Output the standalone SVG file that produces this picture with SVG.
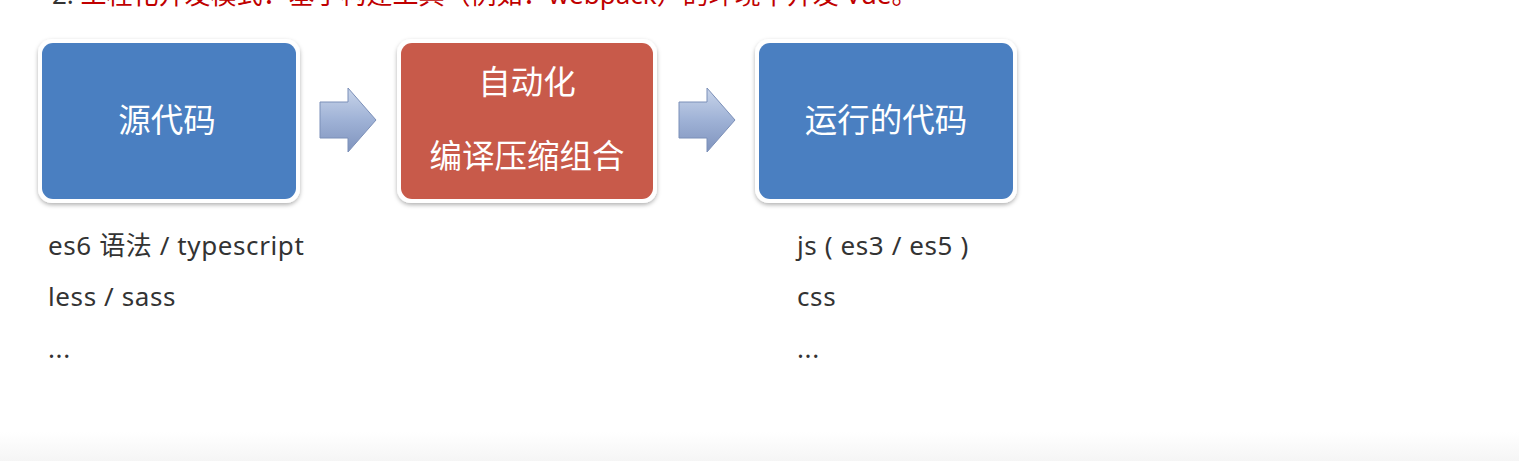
<svg xmlns="http://www.w3.org/2000/svg" width="1519" height="461" viewBox="0 0 1519 461">
<defs>
<style>
.lbl{font-family:"Noto Sans","Noto Sans CJK SC",sans-serif;font-size:32.5px;fill:#ffffff;text-anchor:middle}
.note{font-family:"Noto Sans","Noto Sans CJK SC",sans-serif;font-size:26px;letter-spacing:0.6px;fill:#333333}
.frame{fill:#ffffff;filter:url(#sh)}
</style>
<filter id="sh" x="-10%" y="-10%" width="120%" height="130%">
<feDropShadow dx="0" dy="2" stdDeviation="2" flood-color="#000" flood-opacity="0.3"/>
</filter>
<linearGradient id="arr" x1="0" y1="0" x2="0" y2="1">
<stop offset="0" stop-color="#c9d5ea"/>
<stop offset="0.5" stop-color="#9fb2d6"/>
<stop offset="1" stop-color="#7f93bd"/>
</linearGradient>
<linearGradient id="bot" x1="0" y1="0" x2="0" y2="1">
<stop offset="0" stop-color="#ffffff"/>
<stop offset="1" stop-color="#f5f5f5"/>
</linearGradient>
<path id="arrowShape" d="M0,14 L28,14 L28,0 L56,32 L28,64 L28,50 L0,50 Z"/>
</defs>
<rect width="1519" height="461" fill="#ffffff"/>
<rect x="0" y="432" width="1519" height="29" fill="url(#bot)"/>
<text x="52" y="4" font-family="Noto Sans,Noto Sans CJK SC,sans-serif" font-size="26" fill="#c00000"><tspan fill="#333333">2. </tspan>工程化开发模式：基于构建工具（例如：webpack）的环境中开发 Vue。</text>
<g id="node-source">
<rect class="frame" x="38" y="39" width="262" height="164" rx="14"/>
<rect x="42" y="43" width="254" height="156" rx="11" fill="#4a7fc1"/>
<text class="lbl" x="167" y="132">源代码</text>
</g>
<g id="node-build">
<rect class="frame" x="397" y="39" width="260" height="164" rx="14"/>
<rect x="401" y="43" width="252" height="156" rx="11" fill="#c85a4a"/>
<text class="lbl" x="527" y="94">自动化</text>
<text class="lbl" x="527" y="168">编译压缩组合</text>
</g>
<g id="node-output">
<rect class="frame" x="755" y="39" width="262" height="164" rx="14"/>
<rect x="759" y="43" width="254" height="156" rx="11" fill="#4a7fc1"/>
<text class="lbl" x="886" y="132">运行的代码</text>
</g>
<g id="connectors">
<use href="#arrowShape" x="320" y="88" fill="url(#arr)" stroke="#7b8fb8" stroke-width="1"/>
<use href="#arrowShape" x="679" y="88" fill="url(#arr)" stroke="#7b8fb8" stroke-width="1"/>
</g>
<g id="notes-left">
<text class="note" x="48" y="255">es6 语法 / typescript</text>
<text class="note" x="48" y="306">less / sass</text>
<text class="note" x="48" y="358">...</text>
</g>
<g id="notes-right">
<text class="note" x="797" y="255">js ( es3 / es5 )</text>
<text class="note" x="797" y="306">css</text>
<text class="note" x="797" y="358">...</text>
</g>
</svg>
